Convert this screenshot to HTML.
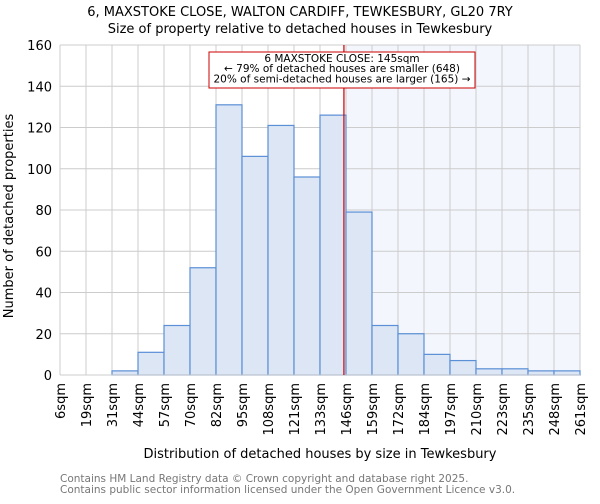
<!DOCTYPE html>
<html><head><meta charset="utf-8"><style>
body{margin:0;background:#fff;font-family:"DejaVu Sans","Liberation Sans",sans-serif;}
</style></head><body>
<svg id="chart" width="600" height="500" xmlns="http://www.w3.org/2000/svg" font-family="DejaVu Sans, Liberation Sans, sans-serif">
<text x="300" y="16" text-anchor="middle" font-size="13">6, MAXSTOKE CLOSE, WALTON CARDIFF, TEWKESBURY, GL20 7RY</text>
<text x="300" y="33" text-anchor="middle" font-size="13">Size of property relative to detached houses in Tewkesbury</text>
<g id="plot"></g>
<text x="320" y="458" text-anchor="middle" font-size="13">Distribution of detached houses by size in Tewkesbury</text>
<text transform="translate(13,216) rotate(-90)" text-anchor="middle" font-size="13">Number of detached properties</text>
<text x="60" y="482" font-size="10.5" fill="#777">Contains HM Land Registry data © Crown copyright and database right 2025.</text>
<text x="60" y="493" font-size="10.5" fill="#777">Contains public sector information licensed under the Open Government Licence v3.0.</text>
</svg>
<script>
const categories=["6sqm","19sqm","31sqm","44sqm","57sqm","70sqm","82sqm","95sqm","108sqm","121sqm","133sqm","146sqm","159sqm","172sqm","184sqm","197sqm","210sqm","223sqm","235sqm","248sqm","261sqm"];
const counts=[0,0,2,11,24,52,131,106,121,96,126,79,24,20,10,7,3,3,2,2];
const yTicks=[0,20,40,60,80,100,120,140,160];
const propertyBinPos=10.92;
const NS="http://www.w3.org/2000/svg";
const X0=60,X1=580,Y0=375,Y1=45,YMAX=160;
const n=counts.length,bw=(X1-X0)/n;
const xs=i=>X0+i*bw;
const ys=v=>Y0-(Y0-Y1)*v/YMAX;
const g=document.getElementById('plot');
function mk(t,a){const e=document.createElementNS(NS,t);for(const k in a)e.setAttribute(k,a[k]);g.appendChild(e);return e;}
const mx=xs(propertyBinPos);
let e=mk('rect',{x:mx,y:Y1,width:X1-mx,height:Y0-Y1,fill:'#f3f6fd'});


yTicks.forEach(t=>{
 let l=mk('line',{x1:X0,x2:X1,y1:ys(t),y2:ys(t),stroke:'#ccc','stroke-width':1});
 
 
 let tx=mk('text',{x:X0-8,y:ys(t)+5,'text-anchor':'end','font-size':13});
 tx.textContent=t;
 
 
});
categories.forEach((c,i)=>{
 let l=mk('line',{x1:xs(i),x2:xs(i),y1:Y1,y2:Y0,stroke:'#ccc','stroke-width':1});
 
 
 let tx=mk('text',{transform:`translate(${xs(i)+5},383) rotate(-90)`,'text-anchor':'end','font-size':13});
 tx.textContent=c;
 
 
});
counts.forEach((v,i)=>{
 if(v<=0)return;
 let r=mk('rect',{x:xs(i),y:ys(v),width:bw,height:Y0-ys(v),fill:'#dce6f5',stroke:'#5b8fd6','stroke-width':1.2});
 
 
});
let ax=mk('line',{x1:X0,x2:X1,y1:Y0,y2:Y0,stroke:'#ccc'});


let ml=mk('line',{x1:mx,x2:mx,y1:Y1,y2:Y0,stroke:'#cc0000','stroke-width':1.2});


let box=mk('rect',{x:209,y:52,width:266,height:36,fill:'#fff',stroke:'#cc0000','stroke-width':1});


["6 MAXSTOKE CLOSE: 145sqm","← 79% of detached houses are smaller (648)","20% of semi-detached houses are larger (165) →"].forEach((s,i)=>{
 let t=mk('text',{x:342,y:62+i*10.2,'text-anchor':'middle','font-size':10.5});
 t.textContent=s;
 
 
});
</script>
</body></html>
